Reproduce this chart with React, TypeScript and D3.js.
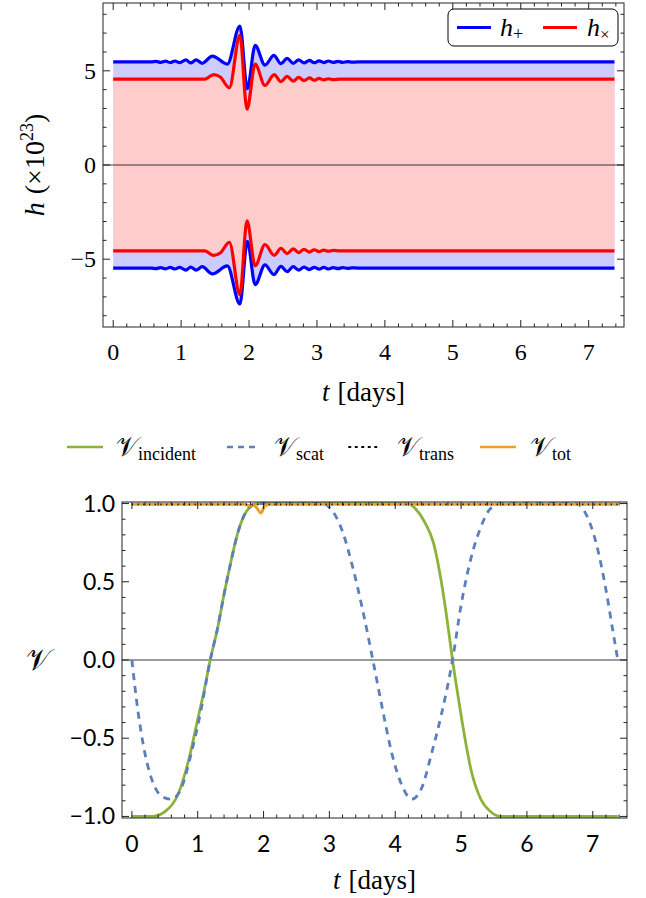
import React from 'react';
import * as d3 from 'd3';

// ---------- data ----------
const xTicks = [0, 1, 2, 3, 4, 5, 6, 7];
const hTicks = [-5, 0, 5];
const vTicks = [-1, -0.5, 0, 0.5, 1];
const vTickLabels = ['\u22121.0', '\u22120.5', '0.0', '0.5', '1.0'];

// upper envelope of h_plus (lower one is its mirror)
const hPlusT = [0, 0.56, 0.63, 0.70, 0.77, 0.84, 0.91, 0.98, 1.07, 1.14, 1.22, 1.31, 1.46, 1.68, 1.865, 1.975, 2.09, 2.235, 2.365, 2.47, 2.56, 2.65, 2.73, 2.81, 2.89, 2.96, 3.03, 3.10, 3.17, 3.24, 3.31, 3.38, 3.45, 3.52, 3.60, 7.38];
const hPlusV = [5.47, 5.47, 5.50, 5.45, 5.51, 5.44, 5.52, 5.43, 5.58, 5.42, 5.58, 5.40, 5.78, 5.36, 7.38, 4.05, 6.35, 5.30, 5.82, 5.38, 5.66, 5.40, 5.58, 5.42, 5.55, 5.43, 5.53, 5.44, 5.52, 5.45, 5.50, 5.45, 5.49, 5.46, 5.47, 5.47];

// upper envelope of h_cross
const hCrossT = [0, 1.35, 1.48, 1.58, 1.71, 1.865, 1.97, 2.09, 2.235, 2.37, 2.47, 2.56, 2.65, 2.73, 2.81, 2.89, 2.96, 3.03, 3.10, 3.17, 3.24, 3.33, 7.38];
const hCrossV = [4.56, 4.56, 4.80, 4.66, 4.10, 6.88, 2.96, 5.35, 4.22, 4.80, 4.42, 4.70, 4.45, 4.65, 4.48, 4.62, 4.50, 4.60, 4.52, 4.58, 4.53, 4.56, 4.56];

const incT = [0, 0.3, 0.5, 0.7, 0.85, 1.0, 1.1, 1.19, 1.3, 1.4, 1.5, 1.6, 1.7, 1.8, 1.9, 4.2, 4.3, 4.45, 4.58, 4.7, 4.8, 4.87, 4.95, 5.05, 5.15, 5.3, 5.45, 5.6, 7.38];
const incV = [-1, -1, -0.97, -0.86, -0.66, -0.38, -0.19, 0, 0.2, 0.42, 0.62, 0.8, 0.92, 0.98, 1, 1, 0.97, 0.88, 0.75, 0.5, 0.22, 0, -0.22, -0.48, -0.7, -0.89, -0.97, -1, -1];

const scatT = [0, 0.1, 0.2, 0.3, 0.45, 0.6, 0.75, 0.9, 1.05, 1.19, 1.3, 1.4, 1.5, 1.6, 1.7, 1.8, 1.95, 2.9, 3.05, 3.2, 3.35, 3.5, 3.66, 3.8, 3.95, 4.1, 4.25, 4.4, 4.55, 4.7, 4.87, 5.0, 5.15, 5.3, 5.45, 5.6, 6.75, 6.9, 7.05, 7.2, 7.3, 7.38];
const scatV = [0, -0.35, -0.6, -0.76, -0.87, -0.89, -0.82, -0.6, -0.32, 0, 0.2, 0.42, 0.62, 0.8, 0.92, 0.98, 1, 1, 0.95, 0.82, 0.6, 0.33, 0, -0.3, -0.6, -0.8, -0.89, -0.82, -0.6, -0.35, 0, 0.35, 0.65, 0.85, 0.97, 1, 1, 0.93, 0.75, 0.45, 0.2, 0];

const transT = [0, 7.38];
const transV = [0.995, 0.995];

const totT = [0, 1.7, 1.8, 1.85, 1.9, 1.96, 2.02, 2.1, 7.38];
const totV = [0.995, 0.995, 0.985, 0.993, 0.97, 0.94, 0.985, 0.995, 0.995];

// ---------- layout ----------
const W = 646, H = 898;
const T = { l: 103, r: 624, t: 3, b: 327 };
const B = { l: 122, r: 627, t: 502, b: 818 };

const C = {
  blue: '#0000ff', red: '#ff0000', blueFill: '#ccccff', redFill: '#ffcccc',
  green: '#8cb23a', dash: '#5b7fbd', orange: '#e9a02a'
};
const serif = "'Liberation Serif', 'DejaVu Serif', serif";
const sansTick = "Lato, 'Noto Sans', sans-serif";

function zip(t: number[], v: number[]) { return t.map((x, i) => [x, v[i]] as [number, number]); }
function range(a: number, b: number, s: number) {
  const out: number[] = [];
  for (let k = Math.ceil(a / s - 1e-9); k * s <= b + 1e-9; k++) out.push(+(k * s).toFixed(6));
  return out;
}

export default function App() {
  const x1 = d3.scaleLinear().domain([-0.15, 7.52]).range([T.l, T.r]);
  const y1 = d3.scaleLinear().domain([-8.6, 8.6]).range([T.b, T.t]);
  const x2 = d3.scaleLinear().domain([-0.15, 7.52]).range([B.l, B.r]);
  const y2 = d3.scaleLinear().domain([-1.01, 1.01]).range([B.b, B.t]);

  const hp = zip(hPlusT, hPlusV);
  const hc = zip(hCrossT, hCrossV);
  const curve = d3.curveMonotoneX;
  const area1 = d3.area<[number, number]>().x(d => x1(d[0])).y0(d => y1(-d[1])).y1(d => y1(d[1])).curve(curve);
  const lineUp = d3.line<[number, number]>().x(d => x1(d[0])).y(d => y1(d[1])).curve(curve);
  const lineDn = d3.line<[number, number]>().x(d => x1(d[0])).y(d => y1(-d[1])).curve(curve);
  const line2 = d3.line<[number, number]>().x(d => x2(d[0])).y(d => y2(d[1])).curve(curve);

  const ticksFrame = (box: typeof T, xs: d3.ScaleLinear<number, number>, ys: d3.ScaleLinear<number, number>,
    xMaj: number[], xMin: number[], yMaj: number[], yMin: number[]) => {
    const els: React.ReactNode[] = [];
    const tk = (x: number, len: number, key: string) => {
      els.push(<line key={key + 'b'} x1={x} x2={x} y1={box.b} y2={box.b - len} stroke="#222" strokeWidth={1} />);
      els.push(<line key={key + 't'} x1={x} x2={x} y1={box.t} y2={box.t + len} stroke="#222" strokeWidth={1} />);
    };
    const tky = (y: number, len: number, key: string) => {
      els.push(<line key={key + 'l'} x1={box.l} x2={box.l + len} y1={y} y2={y} stroke="#222" strokeWidth={1} />);
      els.push(<line key={key + 'r'} x1={box.r} x2={box.r - len} y1={y} y2={y} stroke="#222" strokeWidth={1} />);
    };
    xMin.forEach((v, i) => tk(xs(v), 3.5, 'xm' + i));
    xMaj.forEach((v, i) => tk(xs(v), 7, 'xM' + i));
    yMin.forEach((v, i) => tky(ys(v), 3.5, 'ym' + i));
    yMaj.forEach((v, i) => tky(ys(v), 7, 'yM' + i));
    return els;
  };

  const xMinor = range(-0.15, 7.52, 0.2).filter(v => Math.abs(v - Math.round(v)) > 1e-6);
  const hMinor = range(-8.6, 8.6, 1).filter(v => v % 5 !== 0);
  const vMinor = range(-1.0, 1.0, 0.1).filter(v => Math.abs(v * 2 - Math.round(v * 2)) > 1e-6);

  return (
    <svg width={W} height={H} style={{ position: 'absolute', left: 0, top: 0, background: '#fff' }}>
      <defs>
        <clipPath id="c1"><rect x={T.l} y={T.t} width={T.r - T.l} height={T.b - T.t} /></clipPath>
        <clipPath id="c2"><rect x={B.l} y={B.t - 3} width={B.r - B.l} height={B.b - B.t + 6} /></clipPath>
      </defs>

      {/* ---------- top panel ---------- */}
      <g clipPath="url(#c1)">
        <path d={area1(hp) || ''} fill={C.blueFill} />
        <path d={area1(hc) || ''} fill={C.redFill} />
        <line x1={T.l} x2={T.r} y1={y1(0)} y2={y1(0)} stroke="#222" strokeWidth={0.9} />
        <path d={lineUp(hp) || ''} fill="none" stroke={C.blue} strokeWidth={3.2} />
        <path d={lineDn(hp) || ''} fill="none" stroke={C.blue} strokeWidth={3.2} />
        <path d={lineUp(hc) || ''} fill="none" stroke={C.red} strokeWidth={3.2} />
        <path d={lineDn(hc) || ''} fill="none" stroke={C.red} strokeWidth={3.2} />
      </g>
      <rect x={T.l} y={T.t} width={T.r - T.l} height={T.b - T.t} fill="none" stroke="#222" strokeWidth={1} />
      {ticksFrame(T, x1, y1, xTicks, xMinor, hTicks, hMinor)}
      {xTicks.map(v => (
        <text key={'tx' + v} x={x1(v)} y={360} fontFamily={serif} fontSize={24} textAnchor="middle">{v}</text>
      ))}
      {hTicks.map(v => (
        <text key={'ty' + v} x={T.l - 7} y={y1(v) + 8} fontFamily={serif} fontSize={24} textAnchor="end">{v < 0 ? '\u2212' + Math.abs(v) : v}</text>
      ))}
      <text x={(T.l + T.r) / 2} y={401} fontFamily={serif} fontSize={27} textAnchor="middle">
        <tspan fontStyle="italic">t</tspan><tspan dx={8}>[days]</tspan>
      </text>
      <text transform={`translate(44,${(T.t + T.b) / 2}) rotate(-90)`} fontFamily={serif} fontSize={28} textAnchor="middle">
        <tspan fontStyle="italic">h</tspan><tspan dx={8}>(×10</tspan><tspan fontSize={18} dy={-11}>23</tspan><tspan dy={11}>)</tspan>
      </text>
      {/* top legend */}
      <g>
        <rect x={448} y={9} width={170} height={37} rx={6} fill="#fff" stroke="#000" strokeWidth={1} />
        <line x1={457} x2={491} y1={27.5} y2={27.5} stroke={C.blue} strokeWidth={3.2} />
        <text x={500} y={36} fontFamily={serif} fontSize={26}>
          <tspan fontStyle="italic">h</tspan><tspan fontSize={18} dy={4}>+</tspan>
        </text>
        <line x1={543} x2={577} y1={27.5} y2={27.5} stroke={C.red} strokeWidth={3.2} />
        <text x={587} y={36} fontFamily={serif} fontSize={26}>
          <tspan fontStyle="italic">h</tspan><tspan fontSize={17} dy={4}>×</tspan>
        </text>
      </g>

      {/* ---------- middle legend ---------- */}
      <g fontFamily={serif}>
        <line x1={67} x2={103} y1={447} y2={447} stroke={C.green} strokeWidth={2.6} />
        <text x={116} y={456} fontSize={27}><tspan>𝒱</tspan><tspan fontSize={18} dy={4}>incident</tspan></text>
        <line x1={227} x2={260} y1={447} y2={447} stroke={C.dash} strokeWidth={2.6} strokeDasharray="6,5" />
        <text x={274} y={456} fontSize={27}><tspan>𝒱</tspan><tspan fontSize={18} dy={4}>scat</tspan></text>
        <line x1={349} x2={377} y1={447} y2={447} stroke="#000" strokeWidth={1.8} strokeDasharray="1.5,5" strokeLinecap="round" />
        <text x={397} y={456} fontSize={27}><tspan>𝒱</tspan><tspan fontSize={18} dy={4}>trans</tspan></text>
        <line x1={480} x2={516} y1={447} y2={447} stroke={C.orange} strokeWidth={2.6} />
        <text x={530} y={456} fontSize={27}><tspan>𝒱</tspan><tspan fontSize={18} dy={4}>tot</tspan></text>
      </g>

      {/* ---------- bottom panel ---------- */}
      <line x1={B.l} x2={B.r} y1={y2(0)} y2={y2(0)} stroke="#222" strokeWidth={0.9} />
      <g clipPath="url(#c2)">
        <path d={line2(zip(incT, incV)) || ''} fill="none" stroke={C.green} strokeWidth={2.8} />
        <path d={line2(zip(scatT, scatV)) || ''} fill="none" stroke={C.dash} strokeWidth={2.8} strokeDasharray="7,6" />
        <path d={line2(zip(totT, totV)) || ''} fill="none" stroke={C.orange} strokeWidth={3} />
        <path d={line2(zip(transT, transV)) || ''} fill="none" stroke="#000" strokeWidth={1.6} strokeDasharray="1.2,4.5" />
      </g>
      <rect x={B.l} y={B.t} width={B.r - B.l} height={B.b - B.t} fill="none" stroke="#222" strokeWidth={1} />
      {ticksFrame(B, x2, y2, xTicks, xMinor, vTicks, vMinor)}
      {xTicks.map(v => (
        <text key={'bx' + v} x={x2(v)} y={852} fontFamily={sansTick} fontSize={23} textAnchor="middle">{v}</text>
      ))}
      {vTicks.map((v, i) => (
        <text key={'by' + v} x={B.l - 7} y={y2(v) + 8} fontFamily={sansTick} fontSize={23} textAnchor="end">{vTickLabels[i]}</text>
      ))}
      <text x={(B.l + B.r) / 2} y={889} fontFamily={serif} fontSize={27} textAnchor="middle">
        <tspan fontStyle="italic">t</tspan><tspan dx={8}>[days]</tspan>
      </text>
      <text x={38} y={y2(0) + 10} fontFamily={serif} fontSize={30} textAnchor="middle">𝒱</text>
    </svg>
  );
}
